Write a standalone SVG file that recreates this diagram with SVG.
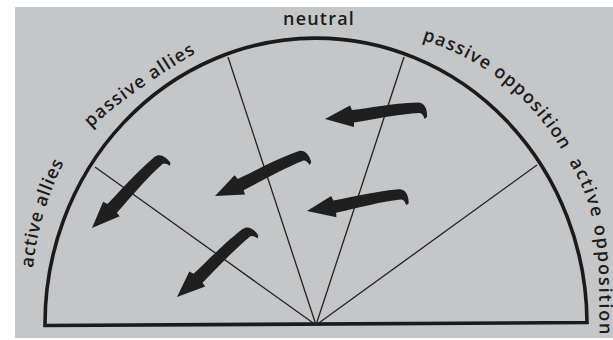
<svg xmlns="http://www.w3.org/2000/svg" width="613" height="340" viewBox="0 0 613 340">
<style>
.outline{fill:none;stroke:#1b1b1b;stroke-width:3.6;stroke-linejoin:miter}
.div{stroke:#222;stroke-width:1.3;fill:none}
.arr{fill:#1f1f1f}
.lbl{font-family:"Open Sans","Liberation Sans",sans-serif;font-size:18px;font-weight:600;fill:#1c1c1c;letter-spacing:1.2px}
</style>
<defs>
<path id="arrow" d="M0 0 L25 -13.5 L27 -9 C45 -11 65 -15.5 93 -16.5 C99 -16.5 102.5 -11 102 -2 L99.5 0 C98.5 -4 96.5 -6.5 94 -6 C75 -5 50 0 29 3.5 L29 8 Z"/>
<path id="p-aa" d="M 33 268 A 300 300 0 0 1 90 120"/>
<path id="p-pa" d="M 91 128 Q 132 88 240 27"/>
<path id="p-po" d="M 422 40 A 240 240 0 0 1 580 190"/>
<path id="p-ao" d="M 569 162 C 590 195 598 232 599 280 L 600 380"/>
</defs>
<rect x="0" y="0" width="613" height="340" fill="#ffffff"/>
<rect x="15" y="7" width="598" height="331" fill="#c5c6c8"/>
<g id="frame">
<path class="outline" d="M 45 325.5 A 271 286 0 0 1 587 322.5 Z"/>
</g>
<g id="dividers">
<line class="div" x1="316" y1="325" x2="95" y2="167"/>
<line class="div" x1="316" y1="325" x2="228" y2="57"/>
<line class="div" x1="316" y1="325" x2="404" y2="57"/>
<line class="div" x1="316" y1="325" x2="537" y2="165"/>
</g>
<g id="active-allies"><text class="lbl" style="letter-spacing:0.8px"><textPath href="#p-aa">active allies</textPath></text></g>
<g id="passive-allies"><text class="lbl"><textPath href="#p-pa">passive allies</textPath></text></g>
<g id="neutral"><text class="lbl" x="319" y="25" text-anchor="middle">neutral</text></g>
<g id="passive-opposition"><text class="lbl"><textPath href="#p-po">passive opposition</textPath></text></g>
<g id="active-opposition"><text class="lbl" style="letter-spacing:1.8px"><textPath href="#p-ao">active opposition</textPath></text></g>
<g id="connectors">
<use class="arr" href="#arrow" transform="translate(325 119)"/>
<use class="arr" href="#arrow" transform="translate(215 196) rotate(-18.2)"/>
<use class="arr" href="#arrow" transform="translate(307 211) rotate(-3.3)"/>
<use class="arr" href="#arrow" transform="translate(92 228) rotate(-38.6)"/>
<use class="arr" href="#arrow" transform="translate(177 297) rotate(-36)"/>
</g>
</svg>
